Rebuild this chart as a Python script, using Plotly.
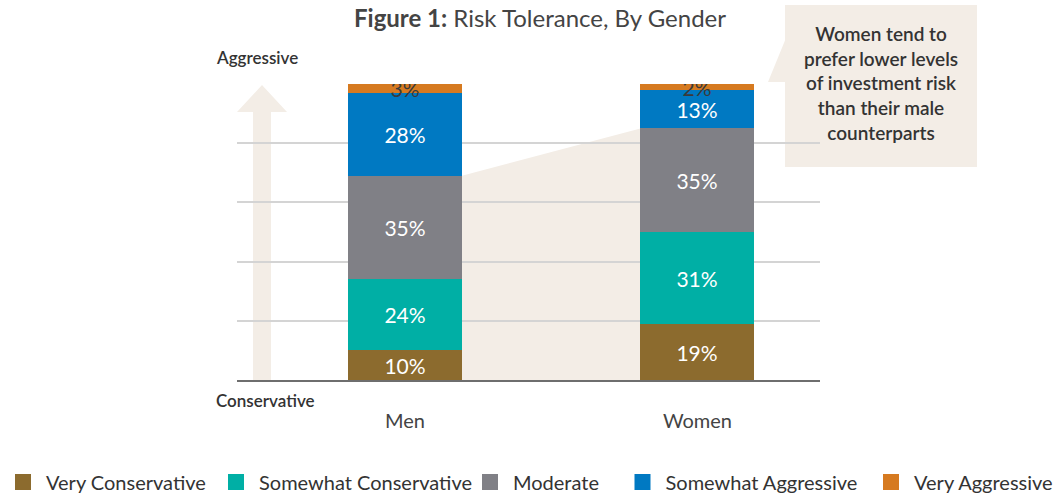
import plotly.graph_objects as go

# ---------------- data ----------------
genders = ["Men", "Women"]
series_names = ["Very Conservative", "Somewhat Conservative", "Moderate",
                "Somewhat Aggressive", "Very Aggressive"]
very_conservative = [10, 19]
somewhat_conservative = [24, 31]
moderate = [35, 35]
somewhat_aggressive = [28, 13]
very_aggressive = [3, 2]
y_ticks = [0, 20, 40, 60, 80, 100]
callout_text = "Women tend to<br>prefer lower levels<br>of investment risk<br>than their male<br>counterparts"

colors = ["#8C6B2E", "#00AFA5", "#808086", "#0079C2", "#D67A20"]
text_colors = ["white", "white", "white", "white", "#3a3a3a"]

series = [very_conservative, somewhat_conservative, moderate,
          somewhat_aggressive, very_aggressive]

# ---------------- layout in pixels ----------------
W, H = 1062, 494
L, R, T, B = 237, 820, 84, 380
BAR_W = 0.39
x_pos = [0, 1]
legend_left_px = [0, 213, 467, 619.5, 868]


def px_x(p):
    return (p - L) / (R - L)


def px_y(p):
    return (B - p) / (B - T)


FONT = "Lato"
fig = go.Figure()

legend_ids = ["legend", "legend2", "legend3", "legend4", "legend5"]
for name, vals, col, tcol, lid in zip(series_names, series, colors, text_colors, legend_ids):
    fig.add_trace(go.Bar(
        x=x_pos, y=vals, name=name, width=BAR_W,
        marker=dict(color=col, line=dict(width=0)),
        text=[f"{v}%" for v in vals], textposition="inside",
        insidetextanchor="middle", constraintext="none",
        textfont=dict(family=FONT, size=21, color=tcol),
        showlegend=False, hoverinfo="skip",
    ))
    # legend proxy with square marker
    fig.add_trace(go.Scatter(
        x=[None], y=[None], mode="markers", name=name,
        marker=dict(symbol="square", size=16, color=col),
        showlegend=True, legend=lid,
    ))

# cumulative top of "Moderate" for each gender
cum_mod = [a + b + c for a, b, c in zip(very_conservative, somewhat_conservative, moderate)]

shapes = []
# beige trapezoid linking moderate tops
shapes.append(dict(
    type="path", xref="x", yref="y", layer="below",
    path=(f"M {x_pos[0] + BAR_W/2},{cum_mod[0]} L {x_pos[1] - BAR_W/2},{cum_mod[1]} "
          f"L {x_pos[1] - BAR_W/2},0 L {x_pos[0] + BAR_W/2},0 Z"),
    fillcolor="#F3EDE6", line=dict(width=0),
))
# upward arrow (Conservative -> Aggressive)
ax0, ax1 = px_x(253), px_x(271)
hx0, hx1 = px_x(237), px_x(287)
hy = px_y(112)
shapes.append(dict(
    type="path", xref="paper", yref="paper", layer="below",
    path=(f"M {ax0},0 L {ax1},0 L {ax1},{hy} L {hx1},{hy} L {(ax0+ax1)/2},{px_y(85)} "
          f"L {hx0},{hy} L {ax0},{hy} Z"),
    fillcolor="#F3EDE6", line=dict(width=0),
))
# callout box
shapes.append(dict(
    type="rect", xref="paper", yref="paper", layer="below",
    x0=px_x(785), x1=px_x(977), y0=px_y(167), y1=px_y(5),
    fillcolor="#F3EDE6", line=dict(width=0),
))
# callout pointer
shapes.append(dict(
    type="path", xref="paper", yref="paper", layer="below",
    path=f"M {px_x(768)},{px_y(82)} L {px_x(786)},{px_y(38)} L {px_x(786)},{px_y(82)} Z",
    fillcolor="#F3EDE6", line=dict(width=0),
))
# leader line from women's bar into the callout
shapes.append(dict(
    type="line", xref="x", yref="y", layer="below",
    x0=x_pos[1] + BAR_W/2, x1=x_pos[1] + BAR_W/2 + 0.22, y0=80, y1=80,
    line=dict(color="#9a9a9a", width=1.5),
))

annotations = [
    dict(text=callout_text, xref="paper", yref="paper", x=px_x(881), y=px_y(83),
         xanchor="center", yanchor="middle", showarrow=False, align="center",
         font=dict(family=FONT, size=19, color="#333333", weight=600)),
    dict(text="Aggressive", xref="paper", yref="paper", x=px_x(214), y=px_y(58),
         xanchor="left", yanchor="middle", showarrow=False,
         font=dict(family=FONT, size=17, color="#333333", weight=600)),
    dict(text="Conservative", xref="paper", yref="paper", x=px_x(214), y=px_y(400),
         xanchor="left", yanchor="middle", showarrow=False,
         font=dict(family=FONT, size=17, color="#333333", weight=600)),
]

legend_common = dict(orientation="h", xref="container", yref="container",
                     y=1 - 482 / H, xanchor="left", yanchor="middle",
                     font=dict(family=FONT, size=20, color="#333333"),
                     itemclick=False, itemdoubleclick=False, itemwidth=36,
                     bgcolor="rgba(0,0,0,0)", borderwidth=0)
legend_layout = {}
for lid, lx in zip(legend_ids, legend_left_px):
    legend_layout[lid] = dict(legend_common, x=max(lx, 0) / W)

fig.update_layout(
    width=W, height=H,
    margin=dict(l=L, r=W - R, t=T, b=H - B, pad=0, autoexpand=False),
    barmode="stack", bargap=0,
    plot_bgcolor="white", paper_bgcolor="white",
    title=dict(text="<b>Figure 1:</b> Risk Tolerance, By Gender",
               x=540 / W, xref="container", xanchor="center",
               y=1 - 19 / H, yref="container", yanchor="middle",
               font=dict(family=FONT, size=24, color="#444444")),
    xaxis=dict(range=[-0.574, 1.419], tickvals=x_pos, ticktext=genders,
               showgrid=False, zeroline=False, showline=True,
               linecolor="#6e6e6e", linewidth=2, ticks="",
               ticklabelstandoff=22,
               tickfont=dict(family=FONT, size=20, color="#444444")),
    yaxis=dict(range=[0, 100], tickvals=y_ticks, showticklabels=False,
               showgrid=True, gridcolor="#d4d4d4", gridwidth=1.5,
               zeroline=False, showline=False),
    shapes=shapes, annotations=annotations,
    **legend_layout,
)

fig.write_html("out.html")
